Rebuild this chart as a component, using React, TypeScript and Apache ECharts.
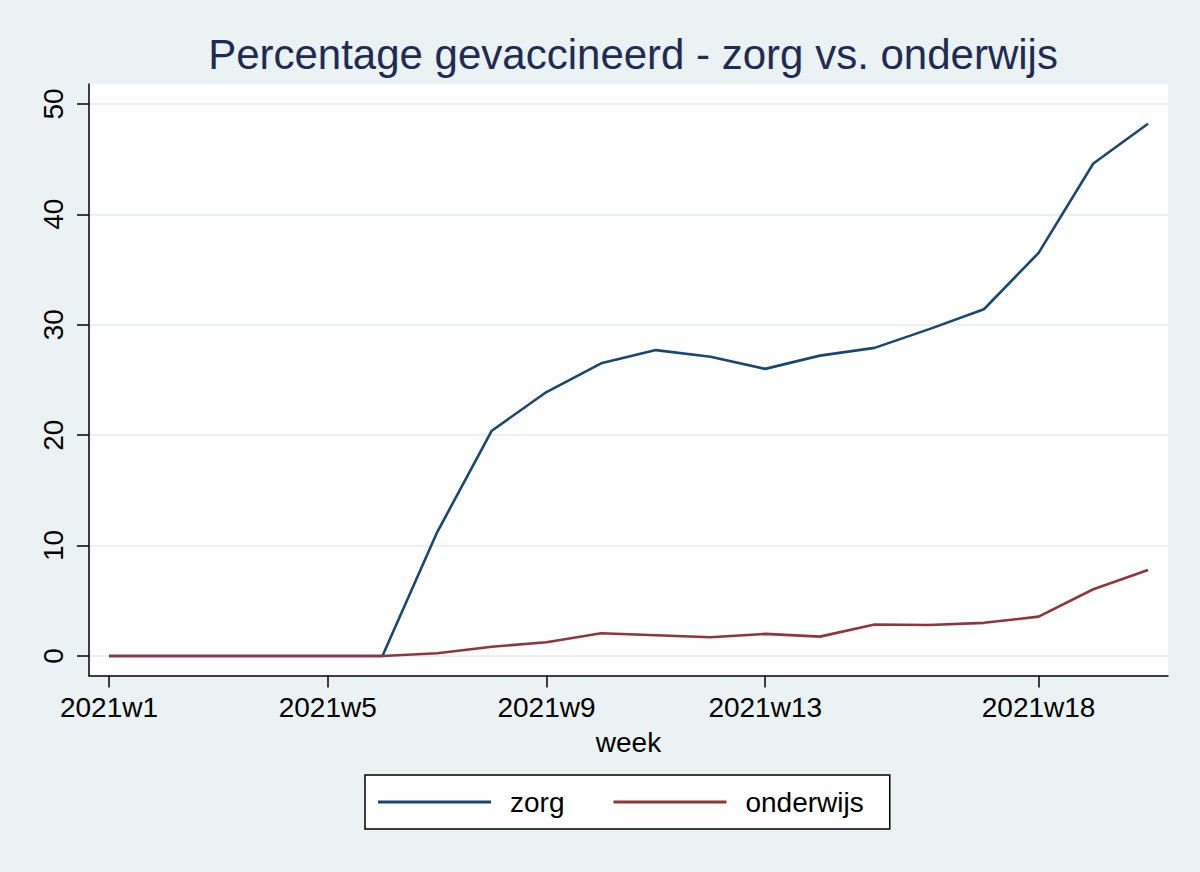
import React, { useEffect, useRef } from 'react';
import * as echarts from 'echarts';

// Weekly vaccination share (%) per sector
const weeks = [1, 2, 3, 4, 5, 6, 7, 8, 9, 10, 11, 12, 13, 14, 15, 16, 17, 18, 19, 20];
const zorg = [0, 0, 0, 0, 0, 0, 11.2, 20.4, 23.9, 26.5, 27.7, 27.1, 26.0, 27.2, 27.9, 29.6, 31.4, 36.5, 44.6, 48.2];
const onderwijs = [0, 0, 0, 0, 0, 0, 0.24, 0.84, 1.24, 2.05, 1.87, 1.69, 2.0, 1.75, 2.85, 2.8, 3.0, 3.56, 6.04, 7.79];

const xTickWeeks = [1, 5, 9, 13, 18];
const yTicks = [0, 10, 20, 30, 40, 50];

const FONT = '"Liberation Sans", Arial, Helvetica, sans-serif';
const BG = '#EAF2F3';
const NAVY = '#1A476F';
const MAROON = '#90353B';

export default function App() {
  const chartRef = useRef<HTMLDivElement>(null);

  useEffect(() => {
    document.body.style.margin = '0';
    if (!chartRef.current) return;
    const chart = echarts.init(chartRef.current, undefined, { renderer: 'svg' });

    const axisLine = { show: true, onZero: false, lineStyle: { color: '#000', width: 1.5 } };
    const tickStyle = { color: '#000', width: 1.5 };

    chart.setOption({
      animation: false,
      backgroundColor: BG,
      textStyle: { fontFamily: FONT },
      title: {
        text: 'Percentage gevaccineerd - zorg vs. onderwijs',
        left: 628,
        textAlign: 'center',
        top: 28,
        textStyle: { fontSize: 42, fontWeight: 'normal', color: '#1E2B54', fontFamily: FONT },
      },
      legend: {
        left: 365,
        top: 775,
        padding: [13, 26, 13, 13],
        backgroundColor: '#fff',
        borderColor: '#000',
        borderWidth: 1.5,
        borderRadius: 0,
        icon: 'rect',
        itemWidth: 113,
        itemHeight: 3,
        itemGap: 49,
        textStyle: { fontSize: 28, color: '#000', fontFamily: FONT, padding: [0, 0, 0, 14] },
        data: ['zorg', 'onderwijs'],
      },
      grid: {
        left: 89,
        right: 32,
        top: 84,
        bottom: 196.5,
        show: true,
        backgroundColor: '#fff',
        borderWidth: 0,
        containLabel: false,
      },
      xAxis: {
        type: 'value',
        min: 0.634,
        max: 20.366,
        axisLine,
        axisTick: { show: true, customValues: xTickWeeks, length: 12, lineStyle: tickStyle },
        axisLabel: {
          customValues: xTickWeeks,
          formatter: (v: number) => `2021w${v}`,
          fontSize: 28,
          color: '#000',
          fontFamily: FONT,
          margin: 18,
        },
        splitLine: { show: false },
        name: 'week',
        nameLocation: 'middle',
        nameGap: 53,
        nameTextStyle: { fontSize: 28, color: '#000', fontFamily: FONT },
      },
      yAxis: {
        type: 'value',
        min: -1.77,
        max: 51.8,
        axisLine,
        axisTick: { show: true, customValues: yTicks, length: 12, lineStyle: tickStyle },
        axisLabel: {
          customValues: yTicks,
          rotate: 90,
          fontSize: 28,
          color: '#000',
          fontFamily: FONT,
          margin: 22,
        },
        splitLine: { show: true, lineStyle: { color: '#E4EDEF', width: 1.5 } },
      },
      series: [
        {
          name: 'zorg',
          type: 'line',
          symbol: 'none',
          data: weeks.map((w, i) => [w, zorg[i]]),
          lineStyle: { color: NAVY, width: 2.6 },
          itemStyle: { color: NAVY },
        },
        {
          name: 'onderwijs',
          type: 'line',
          symbol: 'none',
          data: weeks.map((w, i) => [w, onderwijs[i]]),
          lineStyle: { color: MAROON, width: 2.6 },
          itemStyle: { color: MAROON },
        },
      ],
    });

    return () => chart.dispose();
  }, []);

  return <div ref={chartRef} style={{ width: 1200, height: 872 }} />;
}
